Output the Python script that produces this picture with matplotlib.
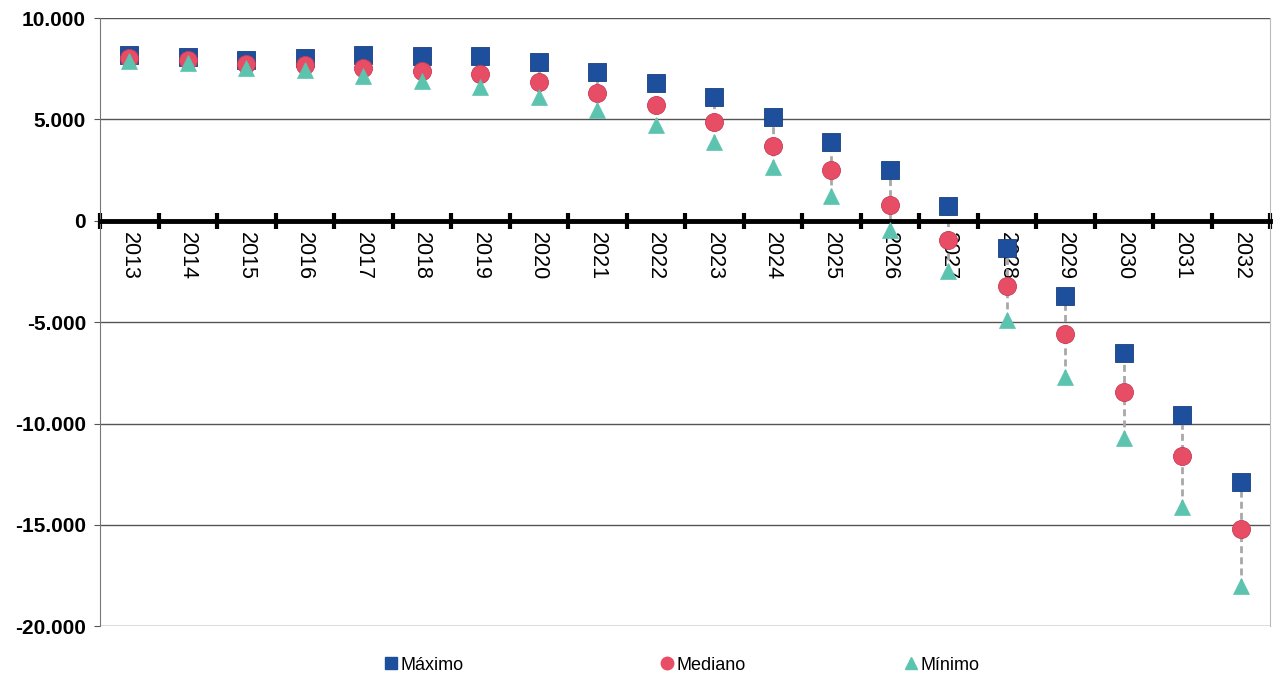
import matplotlib
matplotlib.use("Agg")
import matplotlib.pyplot as plt
from matplotlib.ticker import FuncFormatter
from matplotlib.lines import Line2D
import numpy as np

plt.rcParams["font.family"] = ["Liberation Sans", "DejaVu Sans"]

# datos
anos = [str(a) for a in range(2013, 2033)]
maximo = [8200, 8100, 7950, 8050, 8200, 8150, 8150, 7850, 7350, 6800,
          6100, 5100, 3900, 2500, 750, -1350, -3700, -6500, -9600, -12900]
mediano = [8050, 7950, 7750, 7700, 7550, 7400, 7250, 6850, 6300, 5700,
           4850, 3700, 2500, 800, -950, -3200, -5600, -8450, -11600, -15200]
minimo = [7900, 7800, 7550, 7450, 7150, 6900, 6600, 6100, 5450, 4700,
          3900, 2650, 1200, -450, -2500, -4900, -7700, -10700, -14100, -18000]

c_max = '#1d4f9c'
c_med = '#e84d66'
c_min = '#5cc4ae'

fig = plt.figure(figsize=(12.74, 6.8), dpi=100)
ax = fig.add_axes([0.0785, 0.079, 0.9185, 0.8945])

x = np.arange(len(anos))

# lineas max-min
ax.vlines(x, minimo, maximo, colors='#a8a8a8', linestyles=(0, (2.5, 1.5)),
          linewidth=2, zorder=1.8)

ax.plot(x, maximo, 's', ms=12.5, color=c_max, mec='#173f80', mew=0.6, zorder=3, label='Máximo')
ax.plot(x, mediano, 'o', ms=13, color=c_med, mec='#c93b55', mew=0.6, zorder=3.1, label='Mediano')
ax.plot(x, minimo, '^', ms=11, color=c_min, mec=c_min, mew=0.5, zorder=3.2, label='Mínimo')

ax.set_xlim(-0.5, len(anos) - 0.5)
ax.set_ylim(-20000, 10000)
ax.set_yticks(np.arange(-20000, 10001, 5000))
ax.yaxis.set_major_formatter(FuncFormatter(lambda v, p: f"{int(v):,}".replace(",", ".")))
ax.grid(axis='y', color='#555555', linewidth=1)

# eje de categorias en y = 0
ax.spines['bottom'].set_position(('data', 0))
ax.spines['bottom'].set_linewidth(3.5)
ax.spines['bottom'].set_color('black')
ax.spines['bottom'].set_zorder(2.5)
ax.spines['top'].set_visible(False)
ax.spines['left'].set_color('#777777')
ax.spines['right'].set_color('#bbbbbb')

ax.set_xticks(np.arange(-0.5, len(anos), 1.0))
ax.set_xticklabels([])
ax.set_xticks(x, minor=True)
ax.set_xticklabels(anos, minor=True, rotation=-90, fontsize=15.5)
ax.tick_params(axis='x', which='major', direction='inout', length=11, width=3, color='black')
ax.tick_params(axis='x', which='minor', length=0, pad=8)
ax.tick_params(axis='y', length=4, color='#555555', labelsize=15, pad=6)
for t in ax.get_yticklabels():
    t.set_fontweight('bold')

# leyenda abajo
handles = [
    Line2D([], [], ls='none', marker='s', ms=9, color=c_max, label='Máximo'),
    Line2D([], [], ls='none', marker='o', ms=9, color=c_med, label='Mediano'),
    Line2D([], [], ls='none', marker='^', ms=8, color=c_min, label='Mínimo'),
]
pos = [385 / 1274, 661 / 1274, 905 / 1274]
for h, px in zip(handles, pos):
    fig.legend(handles=[h], loc='center left', bbox_to_anchor=(px, 1 - 665 / 680),
               frameon=False, fontsize=13, handlelength=0.7, handletextpad=0.15,
               borderpad=0, borderaxespad=0)

fig.savefig('out.png', dpi=100)
